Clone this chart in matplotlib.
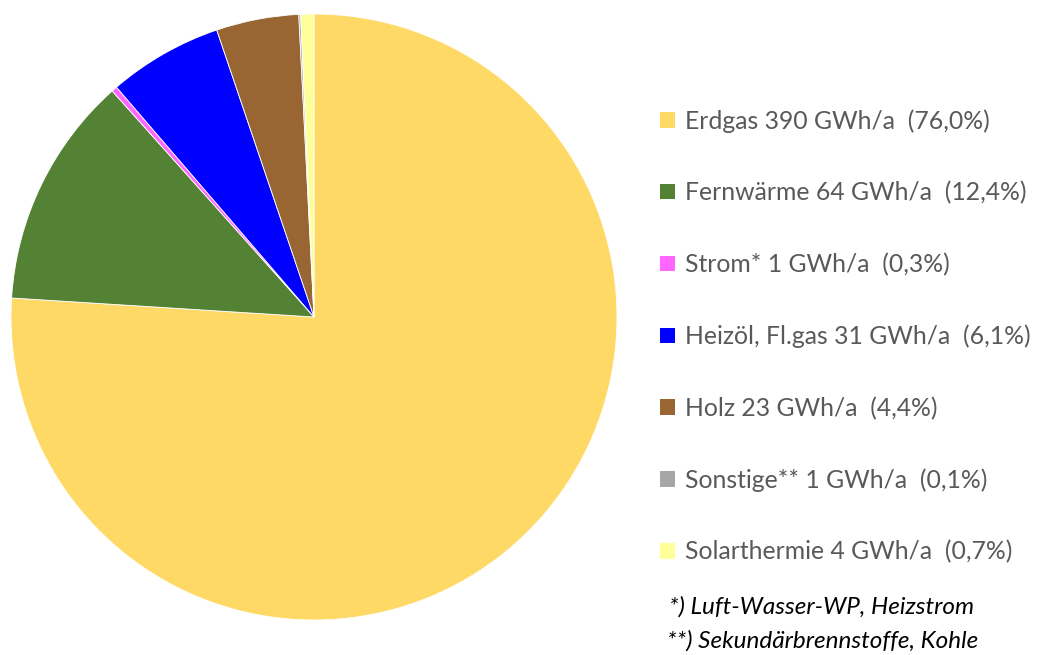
import matplotlib.pyplot as plt
from matplotlib.patches import Patch

# data
labels = ['Erdgas', 'Fernwärme', 'Strom*', 'Heizöl, Fl.gas', 'Holz', 'Sonstige**', 'Solarthermie']
gwh = [390, 64, 1, 31, 23, 1, 4]
shares = [76.0, 12.4, 0.3, 6.1, 4.4, 0.1, 0.7]
colors = ['#FFD966', '#548235', '#FF66FF', '#0000FF', '#996633', '#A6A6A6', '#FFFF99']
notes = ['*) Luft-Wasser-WP, Heizstrom', '**) Sekundärbrennstoffe, Kohle']

plt.rcParams['font.family'] = ['Lato', 'DejaVu Sans']

fig = plt.figure(figsize=(10.41, 6.55), dpi=100)
ax = fig.add_axes([11 / 1041, 35 / 655, 606 / 1041, 606 / 655])
ax.pie(shares, colors=colors, startangle=90, counterclock=False,
       wedgeprops={'linewidth': 0.6, 'edgecolor': 'white'})
ax.set_xlim(-1, 1)
ax.set_ylim(-1, 1)
ax.set_aspect('equal')

# legend
leg_labels = [f'{name} {v} GWh/a  (' + f'{s:.1f}'.replace('.', ',') + '%)'
              for name, v, s in zip(labels, gwh, shares)]
handles = [Patch(facecolor=c, edgecolor='none') for c in colors]
leg = fig.legend(handles, leg_labels, loc='upper left', bbox_to_anchor=(660 / 1041, 1 - 109 / 655),
                 frameon=False, fontsize=17.8, labelspacing=1.96, handlelength=0.6, handleheight=0.6,
                 handletextpad=0.4, borderpad=0, borderaxespad=0)
for t in leg.get_texts():
    t.set_color('#595959')

fig.text(669 / 1041, 1 - 607 / 655, notes[0], fontsize=17.5, style='italic', color='black', va='center')
fig.text(667 / 1041, 1 - 641 / 655, notes[1], fontsize=17.5, style='italic', color='black', va='center')

fig.savefig('out.png', dpi=100)
